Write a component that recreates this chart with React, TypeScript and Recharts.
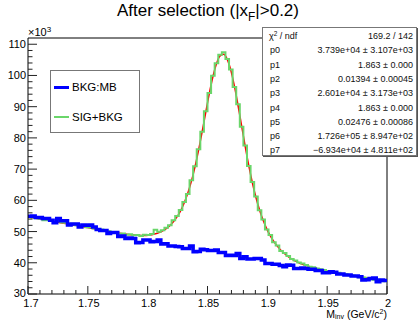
import React from 'react';
import { ComposedChart, Line, XAxis, YAxis, ReferenceLine, Legend } from 'recharts';

const FONT = '"Liberation Sans", Arial, Helvetica, sans-serif';

// Histogram binning (GeV/c^2)
const BIN_START = 1.7;
const BIN_WIDTH = 0.003;

// Values in units of 10^3 entries
const BKG_MB = [
  54.9, 55.0, 54.5, 54.5, 54.2, 54.2, 53.6, 52.8, 54.2, 53.5,
  53.5, 52.1, 52.4, 52.4, 51.5, 52.1, 52.0, 52.1, 51.5, 50.7,
  50.3, 50.3, 49.4, 49.7, 49.7, 48.4, 48.6, 47.8, 47.9, 47.8,
  46.4, 46.5, 47.3, 47.3, 46.7, 46.8, 47.3, 46.0, 46.1, 45.4,
  45.4, 45.2, 45.1, 44.6, 44.6, 45.4, 43.5, 43.6, 44.3, 44.2,
  43.9, 43.9, 44.1, 43.3, 43.3, 42.3, 42.4, 42.3, 43.0, 41.4,
  41.9, 41.2, 41.2, 41.4, 41.4, 40.9, 39.8, 39.8, 39.5, 39.5,
  39.1, 38.7, 39.3, 39.2, 38.2, 38.2, 38.3, 38.2, 37.9, 37.9,
  37.5, 37.5, 36.8, 36.8, 37.1, 37.0, 36.4, 36.4, 36.1, 36.1,
  35.8, 35.8, 35.5, 34.5, 34.6, 35.0, 35.1, 33.9, 34.5, 34.3,
];

const SIG_BKG = [
  54.8, 54.5, 54.3, 54.1, 53.6, 53.7, 53.4, 53.0, 53.3, 52.9,
  52.8, 52.2, 52.5, 52.0, 51.8, 51.9, 51.4, 51.3, 51.0, 50.5,
  50.7, 50.2, 50.1, 49.7, 49.8, 49.3, 49.4, 49.0, 49.1, 48.8,
  48.9, 48.6, 49.0, 48.9, 49.2, 50.6, 49.9, 50.4, 51.2, 52.0,
  53.6, 55.0, 56.9, 59.5, 62.0, 66.4, 70.9, 76.4, 82.0, 88.5,
  94.4, 99.9, 103.9, 106.6, 107.4, 105.3, 101.9, 96.3, 90.8, 83.6,
  77.6, 71.0, 65.9, 61.2, 56.8, 53.9, 50.7, 48.9, 46.6, 45.5,
  43.8, 43.1, 42.2, 41.2, 40.7, 40.1, 39.8, 39.3, 38.7, 38.6,
  38.2, 37.9, 37.7, 37.3, 37.3, 37.0, 36.8, 36.4, 36.4, 36.0,
  35.9, 35.7, 35.4, 35.3, 35.0, 34.9, 34.6, 34.6, 34.2, 34.1,
];

// Fit curve read at bin centres
const FIT = [
  54.62, 54.41, 54.20, 53.99, 53.79, 53.58, 53.37, 53.16, 52.95, 52.75,
  52.54, 52.33, 52.12, 51.91, 51.71, 51.50, 51.29, 51.08, 50.87, 50.67,
  50.46, 50.26, 50.06, 49.86, 49.66, 49.48, 49.30, 49.13, 48.99, 48.87,
  48.78, 48.74, 48.75, 48.83, 49.00, 49.27, 49.67, 50.22, 50.96, 51.91,
  53.13, 54.68, 56.65, 59.13, 62.24, 66.07, 70.66, 75.98, 81.90, 88.10,
  94.17, 99.58, 103.77, 106.27, 106.76, 105.16, 101.64, 96.57, 90.46, 83.88,
  77.31, 71.15, 65.64, 60.89, 56.90, 53.59, 50.88, 48.64, 46.79, 45.25,
  43.96, 42.88, 41.97, 41.20, 40.54, 39.99, 39.52, 39.11, 38.75, 38.43,
  38.15, 37.88, 37.64, 37.40, 37.18, 36.96, 36.74, 36.53, 36.32, 36.11,
  35.90, 35.69, 35.48, 35.27, 35.07, 34.86, 34.65, 34.44, 34.23, 34.03,
];

const X_TICKS = [
  1.7, 1.71, 1.72, 1.73, 1.74, 1.75, 1.76, 1.77, 1.78, 1.79,
  1.8, 1.81, 1.82, 1.83, 1.84, 1.85, 1.86, 1.87, 1.88, 1.89,
  1.9, 1.91, 1.92, 1.93, 1.94, 1.95, 1.96, 1.97, 1.98, 1.99, 2.0,
];
const X_MAJOR = [1.7, 1.75, 1.8, 1.85, 1.9, 1.95, 2.0];
const X_LABELS = ['1.7', '1.75', '1.8', '1.85', '1.9', '1.95', '2'];

const Y_TICKS = [
  30, 32, 34, 36, 38, 40, 42, 44, 46, 48, 50, 52, 54, 56, 58, 60, 62, 64, 66, 68,
  70, 72, 74, 76, 78, 80, 82, 84, 86, 88, 90, 92, 94, 96, 98, 100, 102, 104, 106, 108, 110,
];
const Y_MAJOR = [30, 40, 50, 60, 70, 80, 90, 100, 110];
const Y_LABELS = ['30', '40', '50', '60', '70', '80', '90', '100', '110'];

const STAT_NAMES = ['p0', 'p1', 'p2', 'p3', 'p4', 'p5', 'p6', 'p7'];
const STAT_VALUES = [
  '3.739e+04 ± 3.107e+03',
  '1.863 ± 0.000',
  '0.01394 ± 0.00045',
  '2.601e+04 ± 3.173e+03',
  '1.863 ± 0.000',
  '0.02476 ± 0.00086',
  '1.726e+05 ± 8.947e+02',
  '−6.934e+04 ± 4.811e+02',
];
const CHI2_VALUE = '169.2 / 142';

const LEGEND_LABELS = ['BKG:MB', 'SIG+BKG'];
const BLUE = '#0000ff';
const GREEN = '#6ad66a';
const RED = '#ff0000';

const histData = BKG_MB.map((v, i) => ({ x: BIN_START + i * BIN_WIDTH, bkg: v, sig: SIG_BKG[i] }));
histData.push({ x: BIN_START + BKG_MB.length * BIN_WIDTH, bkg: BKG_MB[BKG_MB.length - 1], sig: SIG_BKG[SIG_BKG.length - 1] });
const fitData = FIT.map((v, i) => ({ x: BIN_START + (i + 0.5) * BIN_WIDTH, fit: v }));

const XTick = (props: any) => {
  const { x, y, payload } = props;
  const v = payload.value;
  const mi = X_MAJOR.findIndex((m) => Math.abs(m - v) < 1e-6);
  const major = mi >= 0;
  return (
    <g>
      <line x1={x} x2={x} y1={y} y2={y - (major ? 8 : 4)} stroke="#222" strokeWidth={1} />
      {major && (
        <text x={mi === 0 ? x + 3 : x + 1} y={y + 12.5} textAnchor="middle" fontSize={11} fontFamily={FONT} fill="#000">
          {X_LABELS[mi]}
        </text>
      )}
    </g>
  );
};

const YTick = (props: any) => {
  const { x, y, payload } = props;
  const v = payload.value;
  const mi = Y_MAJOR.findIndex((m) => Math.abs(m - v) < 1e-6);
  const major = mi >= 0;
  return (
    <g>
      <line x1={x} x2={x + (major ? 9 : 4.5)} y1={y} y2={y} stroke="#222" strokeWidth={1} />
      {major && (
        <text x={x - 2} y={mi === 0 ? y + 2.5 : y + 4} textAnchor="end" fontSize={11} fontFamily={FONT} fill="#000">
          {Y_LABELS[mi]}
        </text>
      )}
    </g>
  );
};

const renderLegend = () => (
  <div
    style={{
      width: 90,
      height: 63,
      border: '1px solid #777',
      boxSizing: 'border-box',
      background: '#fff',
      position: 'relative',
      fontFamily: FONT,
      fontSize: 11.5,
      color: '#000',
    }}
  >
    {LEGEND_LABELS.map((label, i) => (
      <div key={label} style={{ position: 'absolute', left: 3, top: (i === 0 ? 16 : 46) - 8, height: 16, display: 'flex', alignItems: 'center' }}>
        <div style={{ width: 15, height: i === 0 ? 3 : 1.5, background: i === 0 ? BLUE : GREEN }} />
        <span style={{ marginLeft: 3, whiteSpace: 'nowrap' }}>{label}</span>
      </div>
    ))}
  </div>
);

export default function App() {
  const rowTop = (k: number) => 8 + k * 14.3 - 6;
  return (
    <div style={{ position: 'absolute', left: 0, top: 0, width: 419, height: 320, background: '#fff', overflow: 'hidden', fontFamily: FONT }}>
      <ComposedChart width={419} height={320} margin={{ top: 38, right: 32, bottom: 0, left: 0 }}>
        <XAxis
          dataKey="x"
          type="number"
          domain={[1.7, 2.0]}
          ticks={X_TICKS}
          interval={0}
          height={26}
          tickSize={0}
          tickMargin={0}
          tickLine={false}
          axisLine={{ stroke: '#000' }}
          tick={<XTick />}
          allowDataOverflow
        />
        <YAxis
          type="number"
          domain={[30, 112]}
          ticks={Y_TICKS}
          interval={0}
          width={28}
          tickSize={0}
          tickMargin={0}
          tickLine={false}
          axisLine={{ stroke: '#000' }}
          tick={<YTick />}
          allowDataOverflow
        />
        <ReferenceLine y={112} stroke="#000" />
        <ReferenceLine x={2.0} stroke="#000" />
        <Line data={fitData} dataKey="fit" type="monotone" stroke={RED} strokeWidth={1.5} dot={false} isAnimationActive={false} legendType="none" />
        <Line data={histData} dataKey="sig" name="SIG+BKG" type="stepAfter" stroke={GREEN} strokeWidth={2} dot={false} isAnimationActive={false} />
        <Line data={histData} dataKey="bkg" name="BKG:MB" type="stepAfter" stroke={BLUE} strokeWidth={3.5} dot={false} isAnimationActive={false} />
        <Legend
          layout="horizontal"
          verticalAlign="middle"
          align="center"
          content={renderLegend}
          wrapperStyle={{ position: 'absolute', left: 50, top: 70, width: 90, height: 63 }}
        />
      </ComposedChart>

      {/* Title */}
      <div style={{ position: 'absolute', left: 0, top: 1, width: 416, textAlign: 'center', fontSize: 17, lineHeight: '20px', color: '#000', whiteSpace: 'nowrap' }}>
        After selection (|x<span style={{ fontSize: '0.7em', position: 'relative', top: '0.4em' }}>F</span>|&gt;0.2)
      </div>

      {/* y multiplier */}
      <div style={{ position: 'absolute', left: 28, top: 26, fontSize: 11, lineHeight: '12px', color: '#000', whiteSpace: 'nowrap' }}>
        ×10<span style={{ fontSize: 8, position: 'relative', top: -4 }}>3</span>
      </div>

      {/* x axis title */}
      <div style={{ position: 'absolute', right: 419 - 387, top: 309, fontSize: 10.5, lineHeight: '10px', color: '#000', whiteSpace: 'nowrap' }}>
        M<span style={{ fontSize: 7, position: 'relative', top: 1 }}>inv</span> (GeV/c<span style={{ fontSize: 7, position: 'relative', top: -4 }}>2</span>)
      </div>

      {/* Stats box */}
      <div
        style={{
          position: 'absolute',
          left: 262,
          top: 27,
          width: 155,
          height: 129,
          border: '1px solid #777',
          boxShadow: '1px 1px 0 #555',
          background: '#fff',
          boxSizing: 'border-box',
          fontSize: 9,
          color: '#111',
        }}
      >
        <div style={{ position: 'absolute', left: 6, top: rowTop(0), height: 12, lineHeight: '12px', whiteSpace: 'nowrap' }}>
          χ<span style={{ fontSize: 6.5, position: 'relative', top: -3 }}>2</span> / ndf
        </div>
        <div style={{ position: 'absolute', right: 3, top: rowTop(0), height: 12, lineHeight: '12px', whiteSpace: 'nowrap' }}>{CHI2_VALUE}</div>
        {STAT_NAMES.map((n, k) => (
          <React.Fragment key={n}>
            <div style={{ position: 'absolute', left: 7, top: rowTop(k + 1), height: 12, lineHeight: '12px', whiteSpace: 'nowrap' }}>{n}</div>
            <div style={{ position: 'absolute', right: 3, top: rowTop(k + 1), height: 12, lineHeight: '12px', whiteSpace: 'nowrap' }}>{STAT_VALUES[k]}</div>
          </React.Fragment>
        ))}
      </div>
    </div>
  );
}
